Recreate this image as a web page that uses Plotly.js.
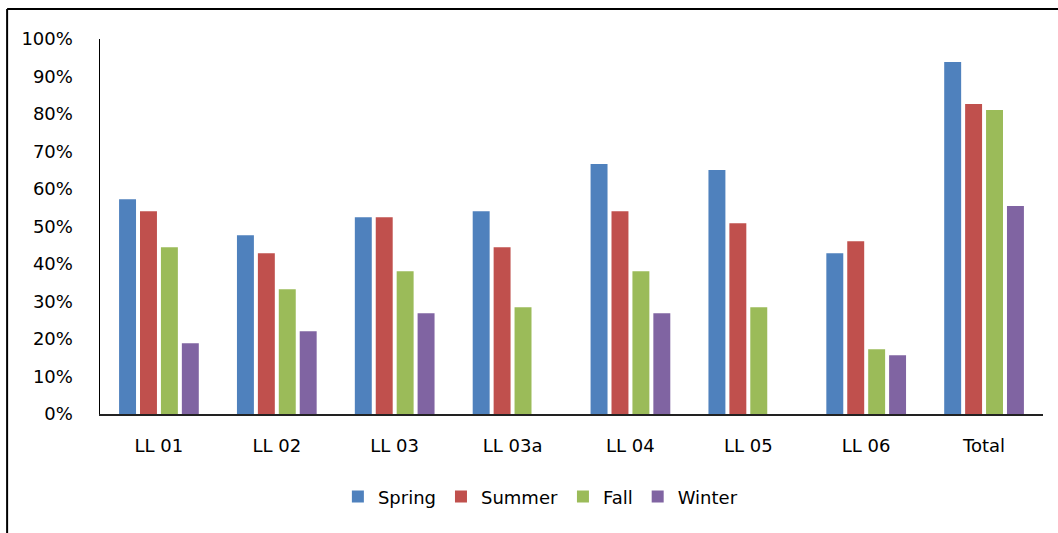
<!DOCTYPE html>
<html>
<head>
<meta charset="utf-8">
<script src="https://cdn.plot.ly/plotly-3.0.1.min.js"></script>
<style>
  html, body { margin: 0; padding: 0; background: #fff; }
  #chart { width: 1058px; height: 533px; }
</style>
</head>
<body>
<div id="chart"></div>
<script>
const categories = ["LL 01", "LL 02", "LL 03", "LL 03a", "LL 04", "LL 05", "LL 06", "Total"];
const spring = [57.3, 47.7, 52.5, 54.1, 66.7, 65.1, 42.9, 93.9];
const summer = [54.1, 42.9, 52.5, 44.5, 54.1, 50.9, 46.1, 82.7];
const fall   = [44.5, 33.3, 38.1, 28.5, 38.1, 28.5, 17.3, 81.1];
const winter = [18.9, 22.1, 26.9, null, 26.9, null, 15.7, 55.5];
const seriesNames = ["Spring", "Summer", "Fall", "Winter"];
const yTickVals = [0, 10, 20, 30, 40, 50, 60, 70, 80, 90, 100];

const colors = ["#4F81BD", "#C0504D", "#9BBB59", "#8064A2"];
const allSeries = [spring, summer, fall, winter];

const traces = allSeries.map((vals, i) => ({
  type: "bar",
  name: seriesNames[i],
  x: categories,
  y: vals,
  marker: { color: colors[i], line: { width: 0 } },
  hoverinfo: "x+y+name"
}));

const font = { family: "DejaVu Sans, sans-serif", size: 18, color: "#000" };

const layout = {
  width: 1058,
  height: 533,
  margin: { l: 100, r: 15, t: 39, b: 119 },
  paper_bgcolor: "#fff",
  plot_bgcolor: "#fff",
  font: font,
  barmode: "group",
  bargap: 0.29,
  bargroupgap: 0.19,
  showlegend: true,
  legend: {
    orientation: "h",
    x: 0.467,
    xanchor: "center",
    y: -0.221,
    yanchor: "middle",
    font: font,
    traceorder: "normal"
  },
  xaxis: {
    type: "category",
    showgrid: false,
    zeroline: false,
    showline: true,
    linecolor: "#222",
    linewidth: 2,
    ticks: "",
    ticklabelstandoff: 14,
    tickfont: font
  },
  yaxis: {
    range: [0, 100],
    tickvals: yTickVals,
    ticktext: yTickVals.map(v => v + "%"),
    showgrid: false,
    zeroline: false,
    showline: true,
    linecolor: "#000",
    linewidth: 1.5,
    ticks: "",
    ticklabelstandoff: 22,
    tickfont: font
  },
  shapes: [
    { type: "line", xref: "paper", yref: "paper", x0: -0.0985, x1: 1.1, y0: 1.08, y1: 1.08,
      line: { color: "#000", width: 2 } },
    { type: "line", xref: "paper", yref: "paper", x0: -0.0985, x1: -0.0985, y0: 1.08, y1: -0.4,
      line: { color: "#000", width: 2 } }
  ]
};

Plotly.newPlot("chart", traces, layout, { displayModeBar: false, staticPlot: true });
</script>
</body>
</html>
